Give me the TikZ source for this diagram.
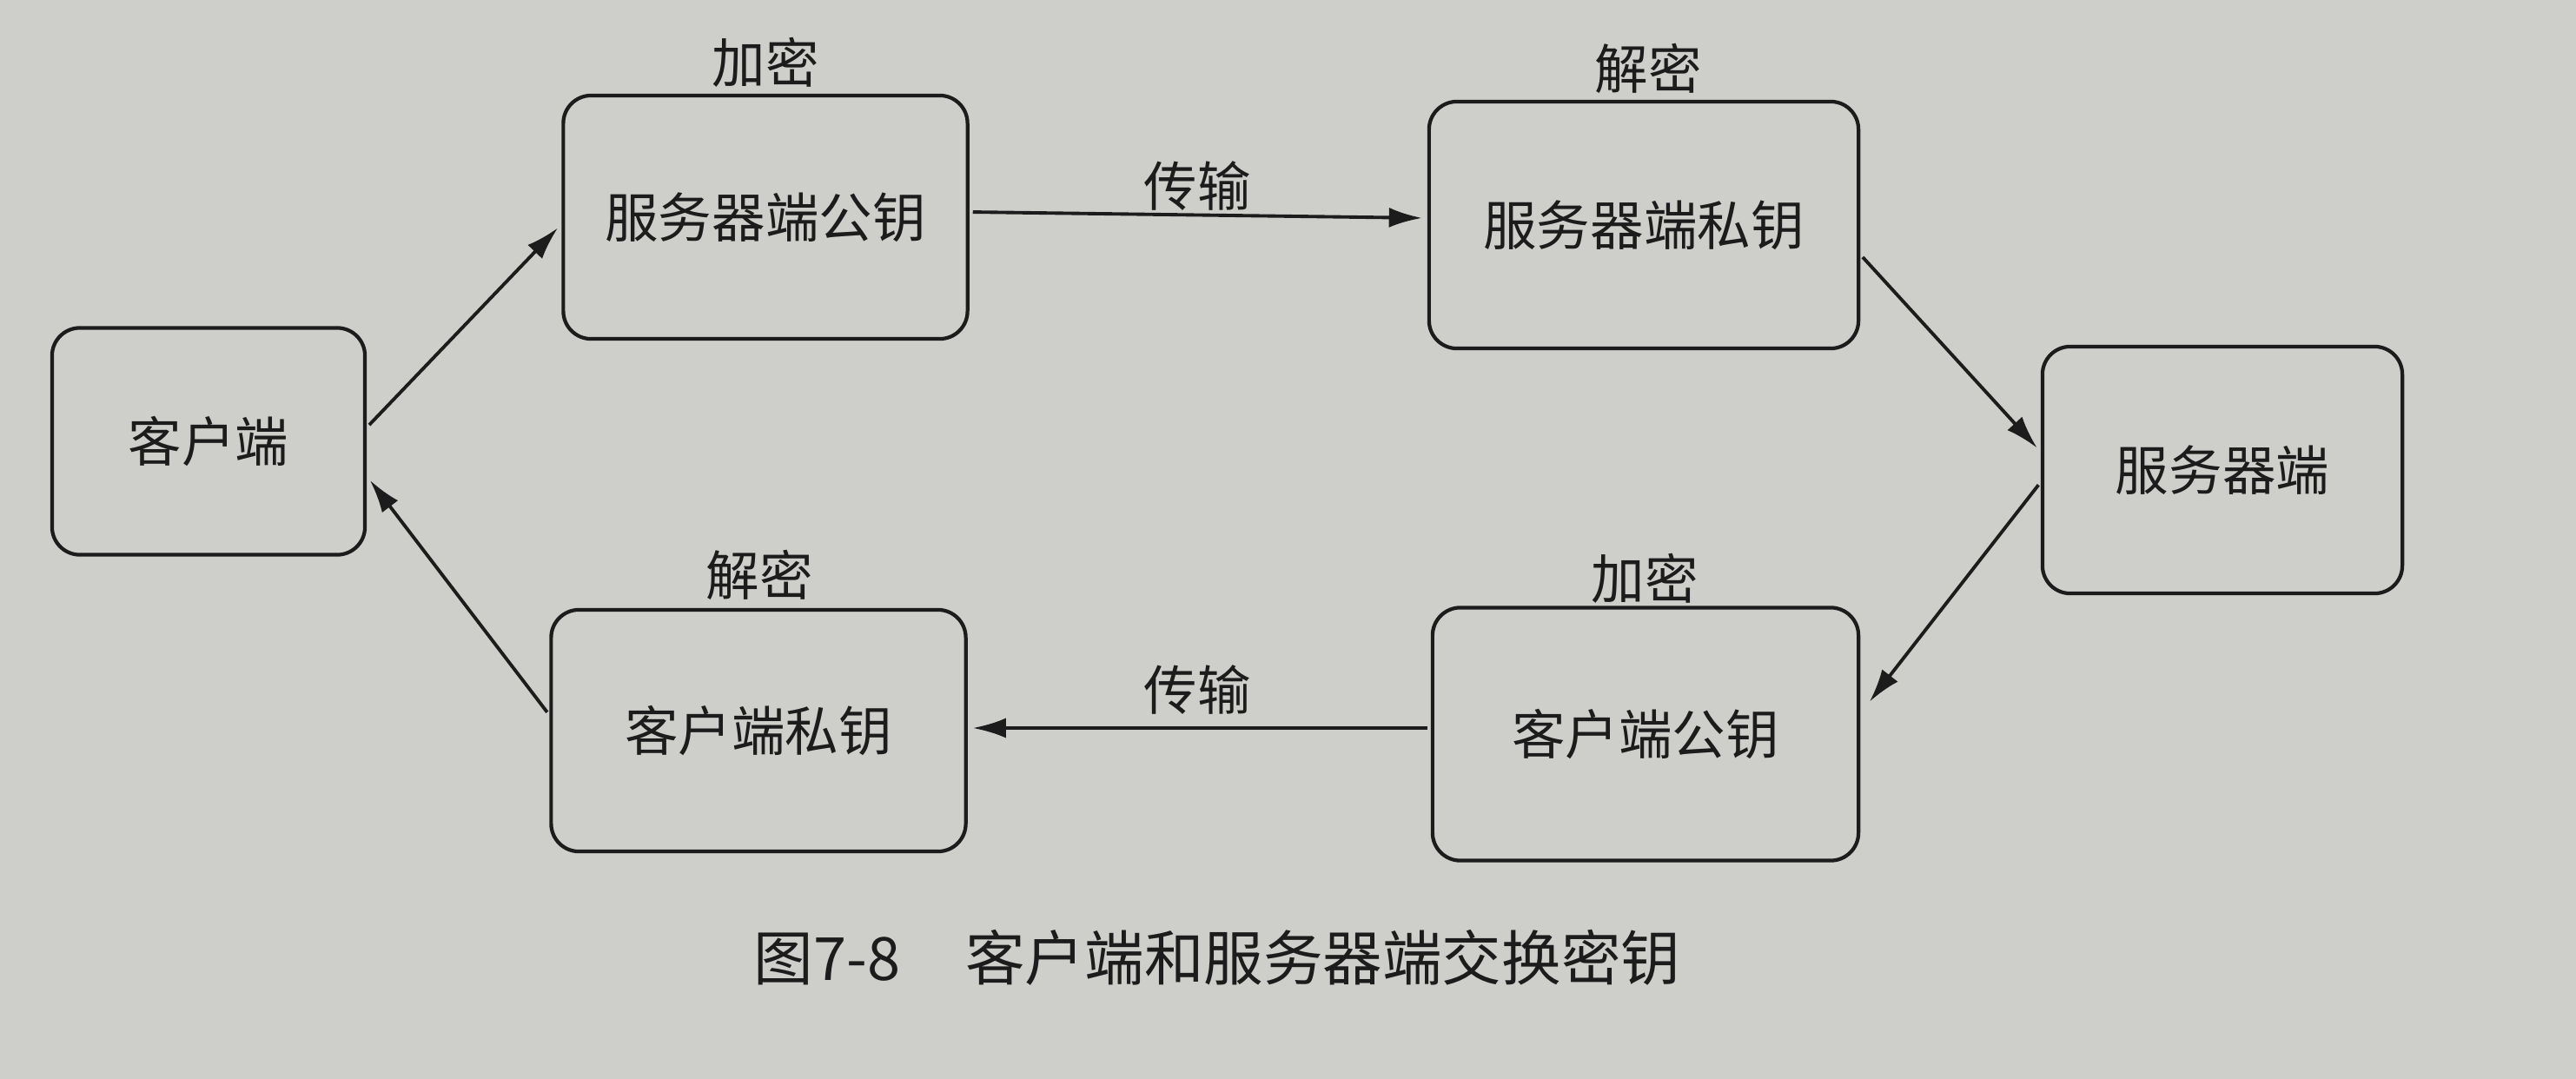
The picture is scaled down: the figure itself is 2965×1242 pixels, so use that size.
\documentclass[tikz,border=0pt]{standalone}
\usepackage{fontspec}
\newfontfamily\cjk{Noto Sans CJK SC}
\usetikzlibrary{arrows.meta}
\definecolor{paper}{RGB}{206,206,203}
\definecolor{ink}{RGB}{28,28,28}
\tikzset{
  keybox/.style={draw=ink, line width=1.2pt, rounded corners=0.32cm, font=\cjk\fontsize{17.5}{20}\selectfont, text=ink, inner sep=0pt},
  lbl/.style={font=\cjk\fontsize{17.5}{20}\selectfont, text=ink, inner sep=0pt},
  flow/.style={draw=ink, line width=1.1pt, -{Latex[length=0.38cm,width=0.23cm]}, shorten >=0.06cm, shorten <=0.04cm}
}
\begin{document}
\begin{tikzpicture}[x=0.01cm,y=-0.01cm]
\fill[paper] (0,0) rectangle (2965,1242);
\useasboundingbox (0,0) rectangle (2965,1242);
\node[keybox, minimum width=3.6cm, minimum height=2.61cm] (A) at (240,508) {客户端};
\node[keybox, minimum width=4.65cm, minimum height=2.8cm] (B) at (881,250) {服务器端公钥};
\node[keybox, minimum width=4.94cm, minimum height=2.84cm] (C) at (1892,259) {服务器端私钥};
\node[keybox, minimum width=4.14cm, minimum height=2.84cm] (D) at (2558,541) {服务器端};
\node[keybox, minimum width=4.9cm, minimum height=2.91cm] (E) at (1894,845) {客户端公钥};
\node[keybox, minimum width=4.77cm, minimum height=2.78cm] (F) at (873,841) {客户端私钥};
\node[lbl] (lB) at (881,72) {加密};
\node[lbl] (lC) at (1897,79) {解密};
\node[lbl] (lBC) at (1378,214) {传输};
\node[lbl] (lF) at (874,662) {解密};
\node[lbl] (lE) at (1893,666) {加密};
\node[lbl] (lEF) at (1378,794) {传输};
\node[lbl, font=\cjk\fontsize{19.5}{22}\selectfont] (cap) at (1401,1102) {图7-8\hspace{0.75cm}客户端和服务器端交换密钥};
\draw[flow] ([yshift=0.16cm]A.east) -- ([yshift=-0.08cm]B.west);
\draw[flow] ([yshift=0.06cm]B.east) -- ([yshift=-0.01cm]C.west |- B.east);
\draw[flow] ([yshift=-0.34cm]C.east) -- ([yshift=0.21cm]D.west);
\draw[flow] ([yshift=-0.14cm]D.west) -- ([xshift=0.07cm,yshift=-1.15cm]E.north east);
\draw[flow] ([yshift=0.07cm]E.west) -- ([yshift=0.07cm]F.east |- E.west);
\draw[flow] ([yshift=0.18cm]F.west) -- ([yshift=-0.4cm]A.east);
\end{tikzpicture}
\end{document}
